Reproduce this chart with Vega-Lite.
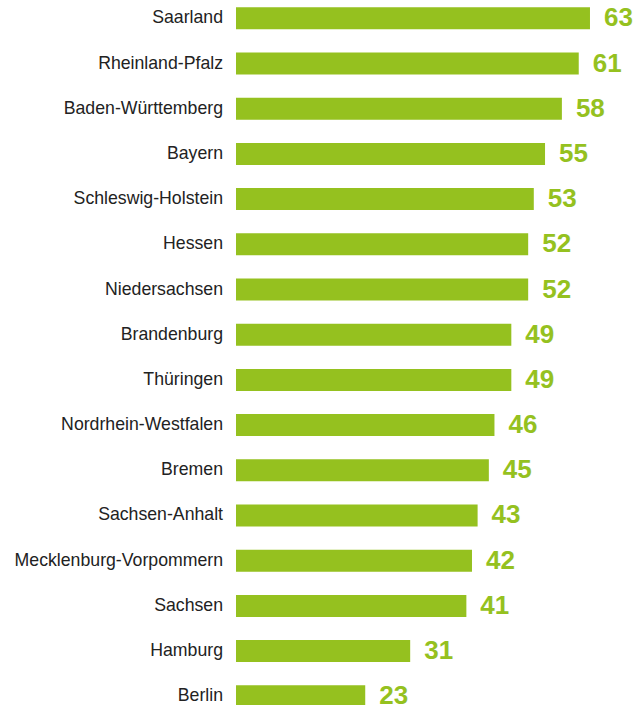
{
  "$schema": "https://vega.github.io/schema/vega-lite/v6.json",
  "autosize": {"type": "none"},
  "width": 400,
  "height": 705,
  "padding": {"left": 236, "top": 0, "right": 0, "bottom": 0},
  "background": "white",
  "config": {"view": {"stroke": null}},
  "data": {
    "values": [
      {"land": "Saarland", "wert": 63},
      {"land": "Rheinland-Pfalz", "wert": 61},
      {"land": "Baden-Württemberg", "wert": 58},
      {"land": "Bayern", "wert": 55},
      {"land": "Schleswig-Holstein", "wert": 53},
      {"land": "Hessen", "wert": 52},
      {"land": "Niedersachsen", "wert": 52},
      {"land": "Brandenburg", "wert": 49},
      {"land": "Thüringen", "wert": 49},
      {"land": "Nordrhein-Westfalen", "wert": 46},
      {"land": "Bremen", "wert": 45},
      {"land": "Sachsen-Anhalt", "wert": 43},
      {"land": "Mecklenburg-Vorpommern", "wert": 42},
      {"land": "Sachsen", "wert": 41},
      {"land": "Hamburg", "wert": 31},
      {"land": "Berlin", "wert": 23}
    ]
  },
  "encoding": {
    "y": {
      "field": "land",
      "type": "nominal",
      "sort": null,
      "title": null,
      "scale": {"range": [7.3, 707.3], "paddingInner": 0.513, "paddingOuter": 0},
      "axis": {
        "domain": false,
        "ticks": false,
        "labelPadding": 13.5,
        "labelFont": "Liberation Sans",
        "labelFontSize": 17.7,
        "labelFontWeight": "normal",
        "labelColor": "#222222",
        "labelLimit": 300
      }
    },
    "x": {
      "field": "wert",
      "type": "quantitative",
      "scale": {"domain": [0, 71.19], "nice": false},
      "axis": null
    }
  },
  "layer": [
    {"mark": {"type": "bar", "color": "#95c11f"}},
    {
      "mark": {
        "type": "text",
        "align": "left",
        "baseline": "middle",
        "dx": 14,
        "font": "Liberation Sans",
        "fontSize": 26,
        "fontWeight": "bold",
        "color": "#95c11f"
      },
      "encoding": {"text": {"field": "wert", "type": "quantitative"}}
    }
  ]
}
